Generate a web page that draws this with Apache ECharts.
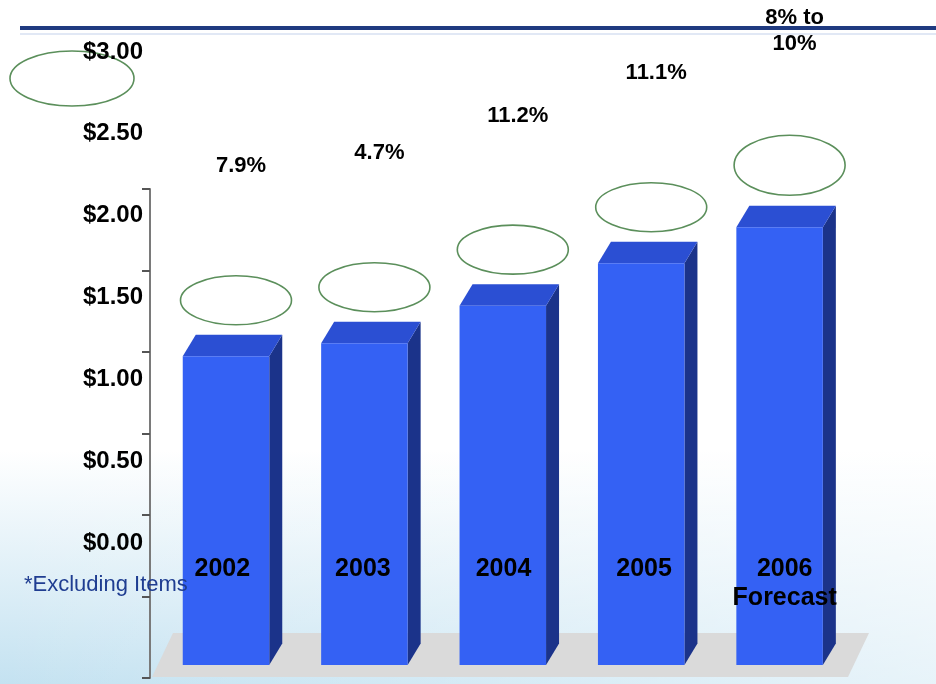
<!DOCTYPE html>
<html>
<head>
<meta charset="utf-8">
<script src="https://cdn.jsdelivr.net/npm/echarts@6/dist/echarts.min.js"></script>
<style>
  html, body { margin: 0; padding: 0; background: #ffffff; }
  #chart { width: 936px; height: 684px; }
</style>
</head>
<body>
<div id="chart"></div>
<script>
// Earnings per share by year, with year-over-year growth
const years = ['2002', '2003', '2004', '2005', '2006\nForecast'];
const eps = [1.89, 1.97, 2.20, 2.46, 2.68];
const growth = ['7.9%', '4.7%', '11.2%', '11.1%', '8% to\n10%'];
const yTicks = [0, 0.5, 1.0, 1.5, 2.0, 2.5, 3.0];

const FONT = '"Liberation Sans", Arial, sans-serif';
const FRONT = '#3461f4';
const TOP = '#2b4fd3';
const SIDE = '#1b338a';
const RING = '#5b8f5b';
// 3D extrusion of each column (right / up)
const DX = 13, DY = -21.5;

const chart = echarts.init(document.getElementById('chart'), null, { renderer: 'canvas' });

function renderColumn(params, api) {
  const i = api.value(0);
  const v = api.value(1);
  const top = api.coord([i, v]);
  const base = api.coord([i, 0]);
  const w = api.size([1, 0])[0] * 0.625;
  const xl = top[0] - w / 2, xr = top[0] + w / 2;
  const yt = top[1], yb = base[1];
  const last = params.dataIndex === eps.length - 1;
  return {
    type: 'group',
    children: [
      { type: 'polygon', shape: { points: [[xr, yt], [xr + DX, yt + DY], [xr + DX, yb + DY], [xr, yb]] },
        style: { fill: SIDE } },
      { type: 'polygon', shape: { points: [[xl, yt], [xl + DX, yt + DY], [xr + DX, yt + DY], [xr, yt]] },
        style: { fill: TOP } },
      { type: 'rect', shape: { x: xl, y: yt, width: w, height: yb - yt },
        style: { fill: FRONT } },
      { type: 'ellipse', shape: { cx: top[0] + 10, cy: yt - (last ? 62 : 56), rx: 55.5, ry: last ? 30 : 24.5 },
        style: { fill: 'none', stroke: RING, lineWidth: 1.6 } },
      { type: 'text',
        style: { text: growth[params.dataIndex], x: top[0] + 15, y: yt - (last ? 196 : 190),
          align: 'center', verticalAlign: 'middle',
          fontFamily: FONT, fontSize: 22, fontWeight: 'bold', lineHeight: 26, fill: '#000' } }
    ]
  };
}

chart.setOption({
  animation: false,
  backgroundColor: '#ffffff',
  graphic: [
    { type: 'rect', z: -10, shape: { x: 0, y: 450, width: 936, height: 234 },
      style: { fill: new echarts.graphic.LinearGradient(0, 0, 0, 1, [
        { offset: 0, color: 'rgba(196,226,241,0)' },
        { offset: 1, color: 'rgba(196,226,241,1)' }]) } },
    { type: 'rect', z: -9, shape: { x: 0, y: 450, width: 936, height: 234 },
      style: { fill: new echarts.graphic.LinearGradient(0, 0, 1, 0, [
        { offset: 0, color: 'rgba(255,255,255,0)' },
        { offset: 0.45, color: 'rgba(255,255,255,0.25)' },
        { offset: 1, color: 'rgba(255,255,255,0.6)' }]) } },
    { type: 'line', z: 1, shape: { x1: 20, y1: 28, x2: 936, y2: 28 },
      style: { stroke: '#1f3a80', lineWidth: 4 } },
    { type: 'line', z: 1, shape: { x1: 20, y1: 34, x2: 936, y2: 34 },
      style: { stroke: 'rgba(170,190,225,0.35)', lineWidth: 2 } },
    { type: 'polygon', z: 0, shape: { points: [[173, 633], [869, 633], [848, 677], [152, 677]] },
      style: { fill: '#dadada' } },
    { type: 'ellipse', z: 1, shape: { cx: 72, cy: 78.5, rx: 62, ry: 27.5 },
      style: { fill: 'none', stroke: RING, lineWidth: 1.6 } },
    { type: 'text', z: 20, style: { text: '*Excluding Items', x: 24, y: 585, verticalAlign: 'middle',
      fontFamily: FONT, fontSize: 22, fill: '#1f3d91' } }
  ],
  grid: [
    { left: 156.8, right: 87.2, top: 175, bottom: 19 },
    { left: 150, width: 1, top: 189, bottom: 6 },
    { left: 152, right: 81, top: 52, bottom: 141 }
  ],
  xAxis: [
    { gridIndex: 0, type: 'category', data: years, show: false },
    { gridIndex: 1, type: 'value', show: false },
    { gridIndex: 2, type: 'category', data: years, z: 20,
      axisLine: { show: false }, axisTick: { show: false },
      axisLabel: { interval: 0, margin: 12, fontFamily: FONT, fontSize: 25, fontWeight: 'bold',
        lineHeight: 29, color: '#000' } }
  ],
  yAxis: [
    { gridIndex: 0, type: 'value', min: 0, max: 3, show: false },
    { gridIndex: 1, type: 'value', min: 0, max: 3, interval: 0.5,
      axisLine: { show: true, lineStyle: { color: '#7a7a7a', width: 2 } },
      axisTick: { show: true, length: 8, lineStyle: { color: '#555', width: 2 } },
      axisLabel: { show: false }, splitLine: { show: false } },
    { gridIndex: 2, type: 'value', min: yTicks[0], max: yTicks[yTicks.length - 1], interval: 0.5, z: 20,
      axisLine: { show: false }, axisTick: { show: false }, splitLine: { show: false },
      axisLabel: { margin: 9, fontFamily: FONT, fontSize: 24, fontWeight: 'bold', color: '#000',
        formatter: v => '$' + v.toFixed(2) } }
  ],
  series: [
    { type: 'custom', xAxisIndex: 0, yAxisIndex: 0, z: 2,
      data: eps.map((v, i) => [i, v]),
      renderItem: renderColumn }
  ]
});
</script>
</body>
</html>
